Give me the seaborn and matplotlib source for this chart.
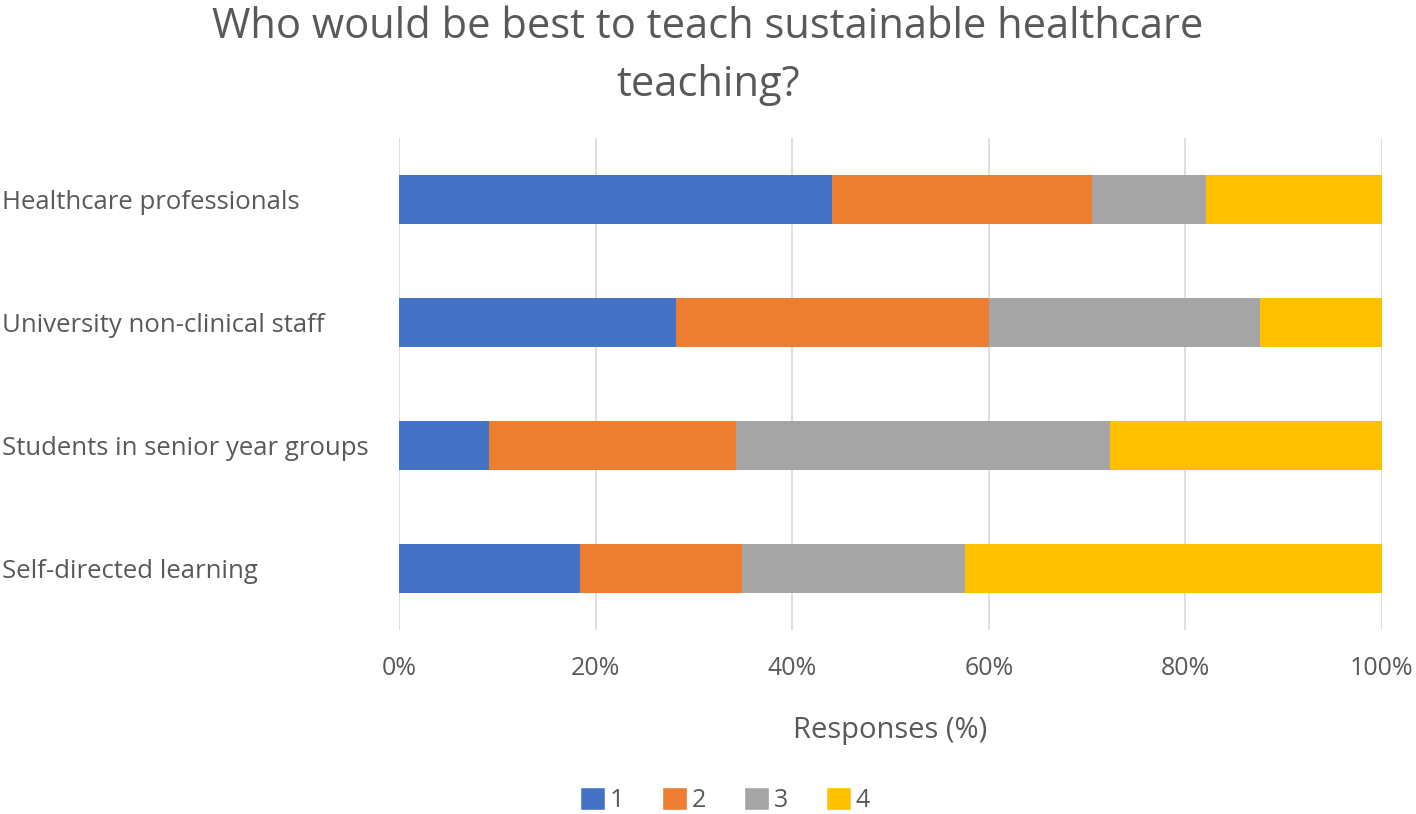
import numpy as np
import pandas as pd
import matplotlib
matplotlib.use("Agg")
import matplotlib.pyplot as plt
import seaborn as sns
from matplotlib.patches import Patch

# Values (percent of responses per rank)
groups = ["Healthcare professionals", "University non-clinical staff",
          "Students in senior year groups", "Self-directed learning"]
ranks = ["1", "2", "3", "4"]
rank1 = [44.0, 28.2, 9.2, 18.4]
rank2 = [26.5, 31.8, 25.1, 16.5]
rank3 = [11.6, 27.6, 38.0, 22.7]
rank4 = [17.9, 12.4, 27.7, 42.4]
colors = ["#4472C4", "#ED7D31", "#A5A5A5", "#FFC000"]

sns.set_style("white")
plt.rcParams["font.family"] = ["Open Sans", "DejaVu Sans"]
text_col = "#595959"

df = pd.DataFrame({"group": groups, "1": rank1, "2": rank2, "3": rank3, "4": rank4})
cum = df[ranks].cumsum(axis=1)

fig = plt.figure(figsize=(14.16, 8.14), dpi=100)
ax = fig.add_axes([399 / 1416, 1 - 630 / 814, 983 / 1416, 492 / 814])

# stack by drawing cumulative totals from the largest down
for r, c in zip(ranks[::-1], colors[::-1]):
    sns.barplot(x=cum[r], y=df["group"], color=c, orient="h",
                width=0.4, ax=ax, saturation=1, linewidth=0)

ax.set_xlim(0, 100)
ax.set_ylim(3.5, -0.5)
ax.set_xticks(np.arange(0, 101, 20))
ax.set_xticklabels([f"{v}%" for v in range(0, 101, 20)])
ax.xaxis.grid(True, color="#D9D9D9", linewidth=1.2)
ax.set_axisbelow(True)
for s in ax.spines.values():
    s.set_visible(False)

ax.tick_params(axis="x", length=0, pad=19, labelsize=18, labelcolor=text_col)
ax.tick_params(axis="y", length=0, pad=286, labelsize=18.5, labelcolor=text_col)
for lab in ax.get_yticklabels():
    lab.set_ha("left")

ax.set_ylabel("")
ax.set_xlabel("Responses (%)", fontsize=21, color=text_col, labelpad=25)

fig.text(0.5, 0.993, "Who would be best to teach sustainable healthcare\nteaching?",
         ha="center", va="top", fontsize=30, color=text_col, linespacing=1.5)

handles = [Patch(facecolor=c, label=r) for r, c in zip(ranks, colors)]
fig.legend(handles=handles, loc="center", bbox_to_anchor=(0.512, 1 - 800 / 814),
           ncol=4, frameon=False, fontsize=18, labelcolor=text_col,
           handlelength=1.0, handleheight=1.0, handletextpad=0.2, columnspacing=1.5)

fig.savefig("out.png", dpi=100)
